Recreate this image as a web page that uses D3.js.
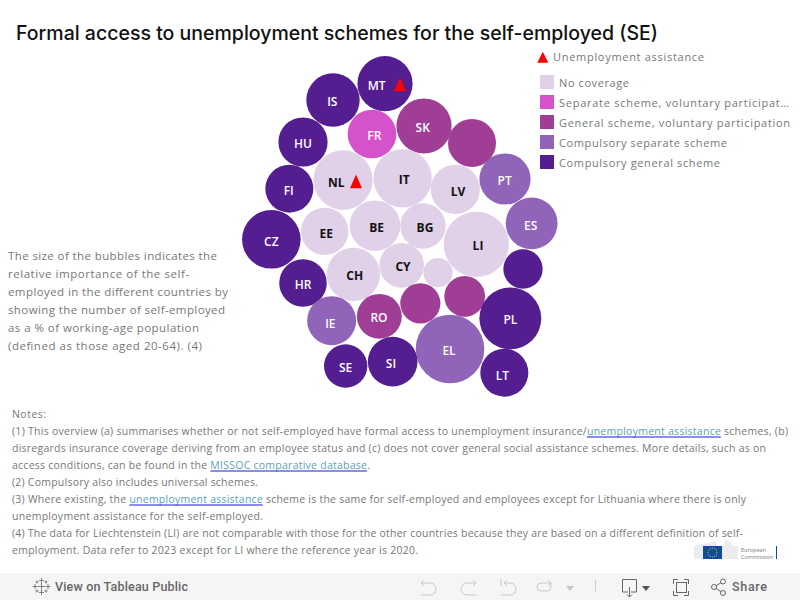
<!DOCTYPE html>
<html><head><meta charset="utf-8">
<script src="https://cdn.jsdelivr.net/npm/d3@7/dist/d3.min.js"></script>
<style>html,body{margin:0;padding:0;background:#fff}svg{display:block}</style>
</head><body><svg id="c" width="800" height="600"></svg>
<script>
// Data. Unlabelled bubbles have an empty code.
const codes = ["MT","IS","FR","SK","","HU","NL","IT","LV","PT","FI","CZ","EE","BE","BG","LI","ES","","HR","CH","CY","","IE","RO","","","PL","EL","LT","SE","SI"];
const selfEmployedPct = [13.6,12.7,10.6,13.6,10.3,10.8,15.7,15.2,10.8,11.7,10.3,15.3,10.0,11.4,9.2,19.0,12.0,6.9,10.1,12.7,8.9,3.8,10.7,9.0,7.2,7.4,17.1,21.0,10.3,8.4,11.0];
const categoryIndex = [4,4,1,2,2,4,0,0,0,3,4,4,0,0,0,0,3,4,4,0,0,0,3,2,2,2,4,3,4,4,4];
const packX = [435,279,396,552,696,189,309,488,646,795,148,94,254,405,549,709,875,849,189,340,485,594,275,418,541,674,811,630,793,317,458];
const packY = [101,150,252,228,279,276,390,385,418,387,416,568,544,527,528,583,520,657,699,673,646,668,812,799,760,739,805,897,968,948,935];
const labelX = [410,277,403,548,0,189,289,493,654,794,146,94,259,410,555,714,872,0,189,344,489,0,271,417,0,0,811,627,787,317,453];
const labelY = [108,155,257,233,0,281,398,389,426,393,422,575,551,533,533,588,527,0,704,678,651,0,821,803,0,0,810,902,978,953,941];
const assistanceCodes = ["MT","NL"];
const assistanceX = [480,348];
const assistanceY = [110,401];
const categories = ["No coverage","Separate scheme, voluntary participat…","General scheme, voluntary participation","Compulsory separate scheme","Compulsory general scheme"];
const categoryColors = ["#e0d0e8","#d552ca","#a03e96","#9064b8","#541e90"];
const titleText = "Formal access to unemployment schemes for the self-employed (SE)";
const assistanceLabel = "Unemployment assistance";
const sideLines = ["The size of the bubbles indicates the","relative importance of the self-","employed in the different countries by","showing the number of self-employed","as a % of working-age population","(defined as those aged 20-64). (4)"];
const sideEnds = [217,189,228,225,199,202];
const noteLines = [
 ["Notes:"],
 ["(1) This overview (a) summarises whether or not self-employed have formal access to unemployment insurance/","*unemployment assistance"," schemes, (b)"],
 ["disregards insurance coverage deriving from an employee status and (c) does not cover general social assistance schemes. More details, such as on"],
 ["access conditions, can be found in the ","*MISSOC comparative database","."],
 ["(2) Compulsory also includes universal schemes."],
 ["(3) Where existing, the ","*unemployment assistance"," scheme is the same for self-employed and employees except for Lithuania where there is only"],
 ["unemployment assistance for the self-employed."],
 ["(4) The data for Liechtenstein (LI) are not comparable with those for the other countries because they are based on a different definition of self-"],
 ["employment. Data refer to 2023 except for LI where the reference year is 2020."]
];
const noteEnds = [46,788,766,370,258,746,263,743,418];
const legendEnds = [629,789,790,727,720];

const svg = d3.select("#c");
const grey = "#777", font = "'Open Sans'";

// plot scales: pack layout units → frame
const x = d3.scaleLinear().domain([0,990]).range([240,570]);
const y = d3.scaleLinear().domain([0,1050]).range([50,400]);
const r = d3.scaleSqrt().domain([0,21]).range([0,34.3]);
const color = d3.scaleOrdinal().domain(d3.range(5)).range(categoryColors);
const triMark = d3.symbol().type(d3.symbolTriangle).size(62.4);
const triKey = d3.symbol().type(d3.symbolTriangle).size(52.4);

const bubbles = codes.map((c,i)=>({c,v:selfEmployedPct[i],k:categoryIndex[i],px:packX[i],py:packY[i],lx:labelX[i],ly:labelY[i]}));

// title
svg.append("text").attr("x",16).attr("y",40).attr("textLength",642).attr("lengthAdjust","spacing")
  .attr("font-family","Inter").attr("font-weight",500).attr("font-size",19.5).attr("fill","#111").text(titleText);

// bubbles
const g = svg.append("g");
g.selectAll("circle").data(bubbles).join("circle")
  .attr("cx",d=>x(d.px)).attr("cy",d=>y(d.py)).attr("r",d=>r(d.v)).attr("fill",d=>color(d.k));
g.selectAll("text").data(bubbles.filter(d=>d.c)).join("text")
  .attr("x",d=>x(d.lx)).attr("y",d=>y(d.ly)+4.3)
  .attr("text-anchor","middle").attr("font-family",font).attr("font-weight",d=>d.k===0?700:600).attr("font-size",12)
  .attr("fill",d=>d.k===0?"#111":"#fff").text(d=>d.c);
g.selectAll("path").data(assistanceCodes).join("path")
  .attr("d",triMark).attr("fill","#ff0000")
  .attr("transform",(d,i)=>`translate(${x(assistanceX[i])},${y(assistanceY[i])}) scale(1,1.318)`);

// legend
const lg = svg.append("g");
lg.append("path").attr("d",triKey).attr("fill","#ff0000").attr("transform","translate(542.8,59) scale(1,1.155)");
lg.append("text").attr("x",553).attr("y",61).attr("textLength",151).attr("font-family",font).attr("font-size",11).attr("fill",grey).text(assistanceLabel);
categories.forEach((c,i)=>{
  lg.append("rect").attr("x",540).attr("y",75+i*20).attr("width",14).attr("height",14).attr("fill",categoryColors[i]);
  lg.append("text").attr("x",559).attr("y",87+i*20).attr("textLength",legendEnds[i]-559).attr("font-family",font).attr("font-size",11).attr("fill",grey).text(c);
});

// side text
sideLines.forEach((t,i)=>{
  svg.append("text").attr("x",8).attr("y",260+i*17.9).attr("textLength",sideEnds[i]-8)
    .attr("font-family",font).attr("font-size",11.5).attr("fill",grey).text(t);
});

// notes
const underlines = [];
noteLines.forEach((parts,i)=>{
  const t = svg.append("text").attr("x",12).attr("y",418+i*17).attr("textLength",noteEnds[i]-12)
    .attr("font-family",font).attr("font-size",10.5).attr("fill",grey);
  parts.forEach(p=>{
    const link = p.startsWith("*");
    t.append("tspan").attr("fill",link?"#5a9fc0":grey).text(link?p.slice(1):p);
  });
  let pos=0; const node=t.node();
  parts.forEach(p=>{
    const link=p.startsWith("*"); const n=link?p.length-1:p.length;
    if(link){const a=node.getStartPositionOfChar(pos).x,b=node.getEndPositionOfChar(pos+n-1).x;underlines.push({a,b,yy:418+i*17+2});}
    pos+=n;
  });
});
svg.selectAll("line.u").data(underlines).join("line").attr("class","u")
  .attr("x1",d=>d.a).attr("x2",d=>d.b).attr("y1",d=>d.yy).attr("y2",d=>d.yy).attr("stroke","#1a1ae0").attr("stroke-width",1);

// logo
const logo = svg.append("g");
logo.append("rect").attr("x",694).attr("y",546).attr("width",44).attr("height",13).attr("fill","#ececec");
logo.append("path").attr("d","M694 546 L716 541 L716 546Z M725 538 L738 550 L725 550Z").attr("fill","#ececec");
logo.append("rect").attr("x",703).attr("y",546).attr("width",19).attr("height",13).attr("fill","#0f4a9c");
logo.append("g").selectAll("circle").data(d3.range(12)).join("circle")
  .attr("cx",d=>712.5+4.5*Math.cos(d*Math.PI/6)).attr("cy",d=>552.5+4.5*Math.sin(d*Math.PI/6)).attr("r",.6).attr("fill","#e8d44a");
["European","Commission"].forEach((t,i)=>logo.append("text").attr("x",741).attr("y",552+i*7).attr("textLength",i?32:25).attr("font-family",font).attr("font-size",5.5).attr("fill","#777").text(t));
logo.append("rect").attr("x",776).attr("y",546).attr("width",1).attr("height",13).attr("fill","#0f4a9c");

// toolbar
const bar = svg.append("g");
bar.append("rect").attr("x",0).attr("y",573).attr("width",800).attr("height",27).attr("fill","#f5f5f5");
bar.append("text").attr("x",55).attr("y",591).attr("textLength",133).attr("font-family","Roboto").attr("font-weight",500).attr("font-size",12.5).attr("fill","#666").text("View on Tableau Public");
bar.append("text").attr("x",732).attr("y",591).attr("textLength",35).attr("font-family","Roboto").attr("font-weight",500).attr("font-size",12.5).attr("fill","#666").text("Share");
const ic = "fill:none;stroke-width:1";
// tableau mark
const mark = bar.append("g").attr("stroke","#777").attr("stroke-width",.9);
[[41.5,586.5,4],[35,586.5,2.5],[48,586.5,2.5],[41.5,580.5,2.5],[41.5,592.5,2.5],[37,582,1.5],[46,582,1.5],[37,591,1.5],[46,591,1.5]].forEach(([cx,cy,s])=>{
  mark.append("path").attr("d",`M${cx-s} ${cy}H${cx+s}M${cx} ${cy-s}V${cy+s}`);
});
// disabled undo/redo etc.
const dis = bar.append("g").attr("style",ic).attr("stroke","#c8c8c8");
dis.append("path").attr("d","M421 583H430a5.5 5.5 0 0 1 0 12H421M424 580l-3 3 3 3");
dis.append("path").attr("d","M476 583H467a5.5 5.5 0 0 0 0 12H476M473 580l3 3-3 3");
dis.append("path").attr("d","M504 583H510a5.5 5.5 0 0 1 0 12H501M507 580l-3 3 3 3M501 579V586");
dis.append("path").attr("d","M551 583H541a4 4 0 0 0 0 8H547a4 4 0 0 0 4-4V583M548 580l3 3-3 3");
bar.append("path").attr("d","M566 586h8l-4 5z").attr("fill","#c8c8c8");
bar.append("path").attr("d","M595.5 580V592").attr("stroke","#ccc");
// download, fullscreen, share
const act = bar.append("g").attr("style",ic).attr("stroke","#666");
act.append("path").attr("d","M628 592H622.5V579.5H636.5V592H631M629.5 587V597M627 594.5l2.5 2.5 2.5-2.5");
bar.append("path").attr("d","M642 586h8l-4 5z").attr("fill","#555");
act.append("path").attr("d","M673.5 584V579.5H678M684 579.5H688.5V584M688.5 591V595.5H684M678 595.5H673.5V591");
act.append("rect").attr("x",676.5).attr("y",582.5).attr("width",10).attr("height",10);
act.append("circle").attr("cx",714).attr("cy",587).attr("r",2.5);
act.append("circle").attr("cx",723).attr("cy",581.5).attr("r",2.5);
act.append("circle").attr("cx",723).attr("cy",593).attr("r",2.5);
act.append("path").attr("d","M716 585.7L721 582.8M716 588.3L721 591.7");
</script></body></html>
